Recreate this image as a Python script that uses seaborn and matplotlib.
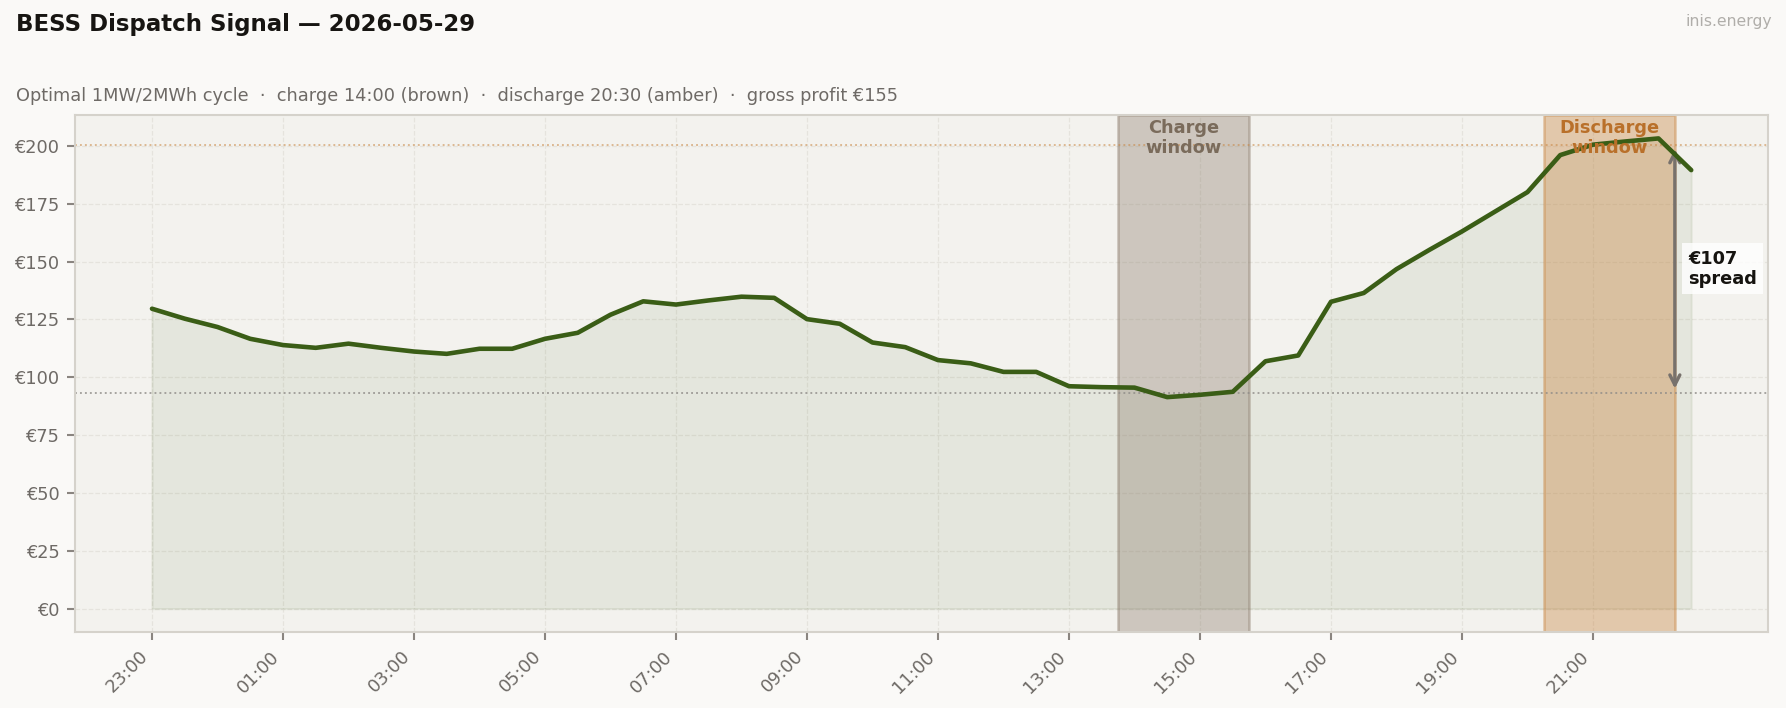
import matplotlib
matplotlib.use('agg')
import matplotlib.pyplot as plt
import matplotlib.ticker as mticker
import matplotlib.dates as mdates
import numpy as np
import pandas as pd
import seaborn as sns

# half-hourly day-ahead prices, 23:00 (D-1) .. 22:30
start = '2026-05-28 23:00'
prices = [129.6, 125.3, 121.7, 116.6, 113.9, 112.7, 114.5, 112.7,
          111.1, 110.1, 112.3, 112.3, 116.6, 119.2, 127.0, 132.8,
          131.4, 133.2, 134.8, 134.3, 125.1, 123.1, 115.0, 113.0,
          107.4, 106.0, 102.3, 102.3, 96.1, 95.7, 95.5, 91.4,
          92.4, 93.7, 106.9, 109.4, 132.6, 136.4, 146.7, 155.0,
          163.0, 171.5, 180.0, 196.0, 200.5, 201.9, 203.2, 189.5]
charge_idx = 30      # 14:00
discharge_idx = 43   # 20:30
slots = 4            # 2h window at 30 min
yticks = [0, 25, 50, 75, 100, 125, 150, 175, 200]

times = pd.date_range(start, periods=len(prices), freq='30min')
df = pd.DataFrame({'time': times, 'price': prices})

charge_avg = np.mean(prices[charge_idx:charge_idx + slots])
discharge_avg = np.mean(prices[discharge_idx:discharge_idx + slots])
spread = discharge_avg - charge_avg

LINE = '#3a5d16'
DISCHARGE = '#c8843f'
TXT = '#6e6a66'

sns.set_theme(style='whitegrid')
plt.rcParams['font.family'] = ['DejaVu Sans']

fig, ax = plt.subplots(figsize=(11.907, 4.7205), dpi=150)
fig.patch.set_facecolor('#faf9f7')
ax.set_facecolor('#f3f2ee')
fig.subplots_adjust(left=0.042, right=0.99, top=0.8376, bottom=0.1077)

ax.fill_between(df['time'], 0, df['price'], color=LINE, alpha=0.08, lw=1)
sns.lineplot(data=df, x='time', y='price', color=LINE, lw=2.2, ax=ax, zorder=4)

half = pd.Timedelta('15min')
c0 = times[charge_idx] - half
c1 = times[charge_idx + slots - 1] + half
d0 = times[discharge_idx] - half
d1 = times[discharge_idx + slots - 1] + half
ax.axvspan(c0, c1, fc=(0.541, 0.478, 0.416, 0.36), ec=(0.541, 0.478, 0.416, 0.45),
           lw=1.2, zorder=1)
ax.axvspan(d0, d1, fc=(0.784, 0.518, 0.247, 0.38), ec=(0.784, 0.518, 0.247, 0.45),
           lw=1.2, zorder=1)

ax.axhline(discharge_avg, color=DISCHARGE, ls=':', lw=0.9, alpha=0.55, zorder=2)
ax.axhline(charge_avg, color='#8f8c88', ls=':', lw=0.9, alpha=0.8, zorder=2)

trans = ax.get_xaxis_transform()
ax.text(c0 + (c1 - c0) / 2, 0.993, 'Charge\nwindow', transform=trans,
        ha='center', va='top', fontsize=8.5, fontweight='bold', color='#7a6b5b',
        linespacing=1.15, zorder=5)
ax.text(d0 + (d1 - d0) / 2, 0.993, 'Discharge\nwindow', transform=trans,
        ha='center', va='top', fontsize=8.5, fontweight='bold', color='#b9702a',
        linespacing=1.15, zorder=5)

ax.annotate('', xy=(d1, charge_avg), xytext=(d1, discharge_avg),
            arrowprops=dict(arrowstyle='<->', color='#77716c', lw=1.6))
ax.text(d1 + pd.Timedelta('12min'), (charge_avg + discharge_avg) / 2,
        f'€{spread:.0f}\nspread', ha='left', va='center', fontsize=8.5,
        fontweight='bold', color='#161410', zorder=6,
        bbox=dict(boxstyle='square,pad=0.35', fc='white', ec='none', alpha=0.8))

ax.set_ylim(-10, max(prices) * 1.05)
ax.set_yticks(yticks)
ax.set_yticklabels([f'€{v}' for v in yticks])
ax.xaxis.set_major_locator(mticker.FixedLocator(mdates.date2num(times[::4])))
ax.xaxis.set_major_formatter(mdates.DateFormatter('%H:%M'))
plt.setp(ax.get_xticklabels(), rotation=45, ha='right')
ax.tick_params(axis='both', colors='#8a8580', labelcolor=TXT, labelsize=8.5,
               length=4, width=1, left=True, bottom=True)
ax.set_xlabel('')
ax.set_ylabel('')
ax.grid(True, color='#e5e3dd', ls='--', lw=0.6)
for s in ax.spines.values():
    s.set_color('#d5d2cb')
    s.set_linewidth(1)

fig.text(0.009, 0.965, 'BESS Dispatch Signal — 2026-05-29', fontsize=11,
         fontweight='bold', color='#171512', va='center')
fig.text(0.009, 0.865, 'Optimal 1MW/2MWh cycle  ·  charge 14:00 (brown)  ·  '
         'discharge 20:30 (amber)  ·  gross profit €155', fontsize=8.5,
         color=TXT, va='center')
fig.text(0.992, 0.97, 'inis.energy', fontsize=7.5, color='#b0aeaa',
         ha='right', va='center')

plt.savefig('out.png', dpi=150, facecolor=fig.get_facecolor())
